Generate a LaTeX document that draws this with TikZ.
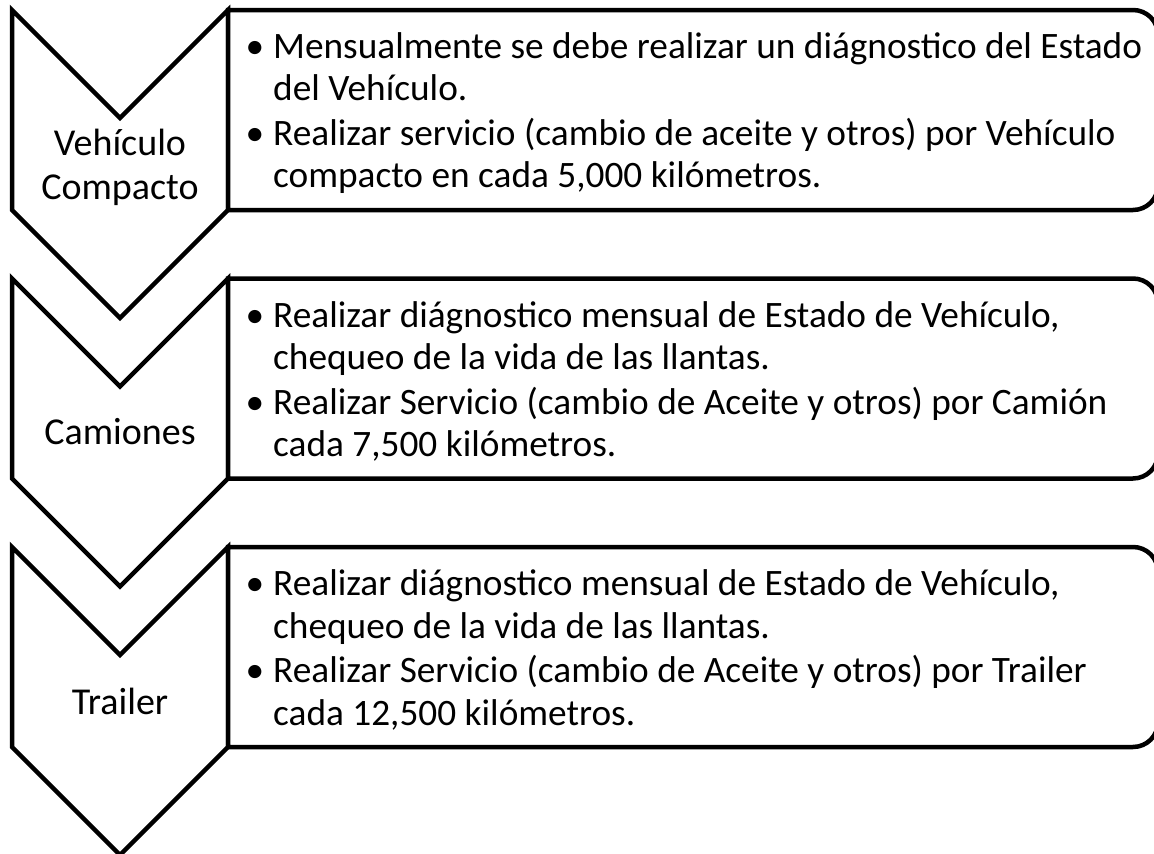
\documentclass[tikz,border=0pt]{standalone}
\usepackage{fontspec}
\setmainfont{Carlito}
\usetikzlibrary{positioning}

\tikzset{
    chevron/.style = {draw, line width=4.5pt, fill=white, line join=miter},
    listbox/.style = {draw, line width=4.5pt, fill=white},
    steplabel/.style = {align=center, inner sep=0pt, font=\fontsize{38}{44}\selectfont},
    itemtext/.style = {align=left, anchor=west, inner sep=0pt, font=\fontsize{37.3}{42.5}\selectfont}
}

\begin{document}
\begin{tikzpicture}[x=1pt,y=-1pt]

        \useasboundingbox (0,0) rectangle (1154,854);

        % Vehiculo compacto
        \draw[chevron] (12,10) -- (120,118) -- (228,10) -- (228,210) -- (120,318) -- (12,210) -- cycle;
        \draw[listbox] (228,210) -- (228,10) [rounded corners=25pt] -- (1158,10) -- (1158,210) [sharp corners] -- cycle;

        % Camiones
        \draw[chevron] (12,278.5) -- (120,386.5) -- (228,278.5) -- (228,478.5) -- (120,586.5) -- (12,478.5) -- cycle;
        \draw[listbox] (228,478.5) -- (228,278.5) [rounded corners=25pt] -- (1158,278.5) -- (1158,478.5) [sharp corners] -- cycle;

        % Trailer
        \draw[chevron] (12,547) -- (120,655) -- (228,547) -- (228,747) -- (120,855) -- (12,747) -- cycle;
        \draw[listbox] (228,747) -- (228,547) [rounded corners=25pt] -- (1158,547) -- (1158,747) [sharp corners] -- cycle;

        \node (compacto) [steplabel] at (120,167) {Vehículo\\Compacto};
        \node (camiones) [steplabel] at (120,432) {Camiones};
        \node (trailer)  [steplabel] at (120,701) {Trailer};

        \node (compactotext) [itemtext] at (273,113)
        {
        \llap{\textbullet\hspace{9pt}}Mensualmente se debe realizar un diágnostico del Estado\\
        del Vehículo.\\[2pt]
        \llap{\textbullet\hspace{9pt}}Realizar servicio (cambio de aceite y otros) por Vehículo\\
        compacto en cada 5,000 kilómetros.
        };

        \node (camionestext) [itemtext] at (273,381.5)
        {
        \llap{\textbullet\hspace{9pt}}Realizar diágnostico mensual de Estado de Vehículo,\\
        chequeo de la vida de las llantas.\\[2pt]
        \llap{\textbullet\hspace{9pt}}Realizar Servicio (cambio de Aceite y otros) por Camión\\
        cada 7,500 kilómetros.
        };

        \node (trailertext) [itemtext] at (273,650)
        {
        \llap{\textbullet\hspace{9pt}}Realizar diágnostico mensual de Estado de Vehículo,\\
        chequeo de la vida de las llantas.\\[2pt]
        \llap{\textbullet\hspace{9pt}}Realizar Servicio (cambio de Aceite y otros) por Trailer\\
        cada 12,500 kilómetros.
        };

\end{tikzpicture}
\end{document}
